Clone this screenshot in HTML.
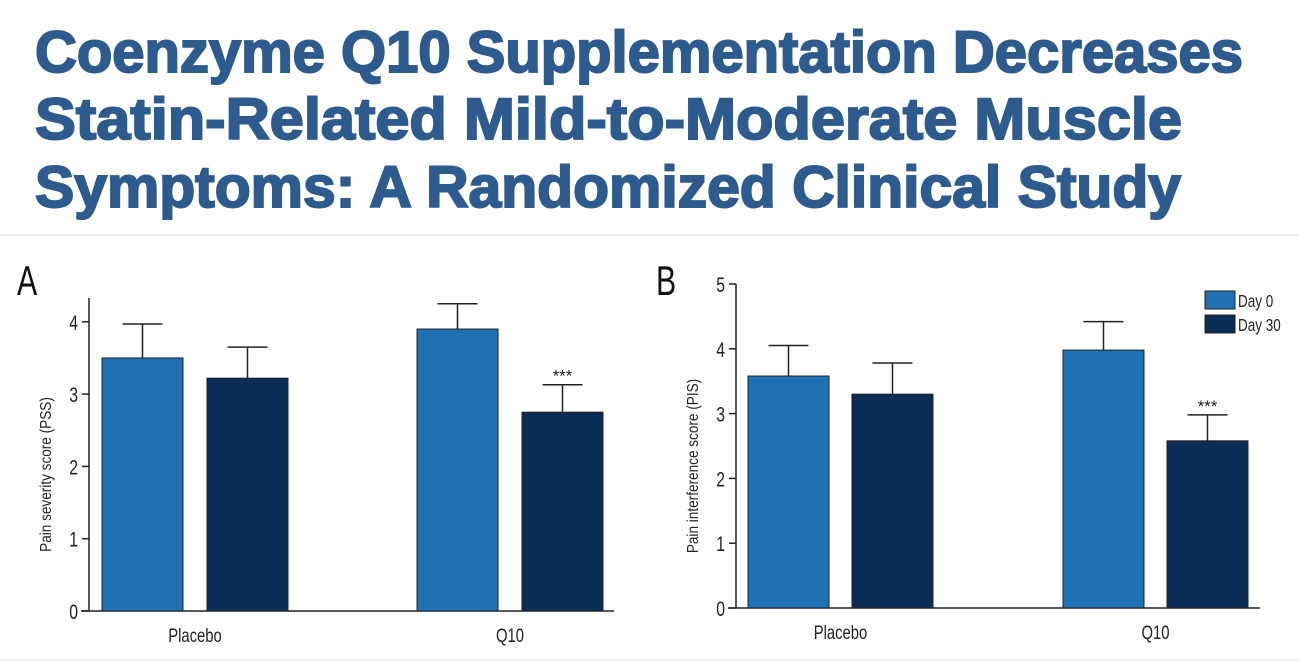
<!DOCTYPE html>
<html><head><meta charset="utf-8"><style>
body{margin:0;background:#fff;width:1299px;height:667px;overflow:hidden;font-family:"Liberation Sans",sans-serif}
</style></head><body>
<svg width="1299" height="667" xmlns="http://www.w3.org/2000/svg">
<g fill="#2e5b8e" font-family="Liberation Sans, sans-serif" font-weight="bold" font-size="58">
<text x="35" y="72" textLength="1208" lengthAdjust="spacingAndGlyphs" stroke="#2e5b8e" stroke-width="2">Coenzyme Q10 Supplementation Decreases</text>
<text x="35" y="139" textLength="1147" lengthAdjust="spacingAndGlyphs" stroke="#2e5b8e" stroke-width="2">Statin-Related Mild-to-Moderate Muscle</text>
<text x="35" y="207" textLength="1146" lengthAdjust="spacingAndGlyphs" stroke="#2e5b8e" stroke-width="2">Symptoms: A Randomized Clinical Study</text>
</g>
<line x1="0" y1="235" x2="1299" y2="235" stroke="#e4e4e4"/>
<line x1="0" y1="660" x2="1299" y2="660" stroke="#e4e4e4"/>
<g id="charts"></g>
</svg>
<script>
const categories=["Placebo","Q10"];
const seriesNames=["Day 0","Day 30"];
const aDay0=[3.5,3.9], aDay30=[3.22,2.75];
const aErr0=[0.47,0.35], aErr30=[0.43,0.38];
const bDay0=[3.58,3.98], bDay30=[3.3,2.58];
const bErr0=[0.47,0.44], bErr30=[0.48,0.4];
const aTicks=[0,1,2,3,4], bTicks=[0,1,2,3,4,5];
const NS="http://www.w3.org/2000/svg";
const root=document.getElementById('charts');
const colors=["#1f71b3","#0a2c55"];
function mk(tag,attrs,parent){const e=document.createElementNS(NS,tag);for(const k in attrs)e.setAttribute(k,attrs[k]);(parent||root).appendChild(e);return e;}
function cond(el,x,y,sx){el.setAttribute('transform',`translate(${x},${y}) scale(${sx},1)`);}
function chart(cfg){
  const g=mk('g',{});
  
  
  const y=v=>cfg.base-v*cfg.unit;
  const lab=mk('text',{x:0,y:0,'font-size':42,fill:'#111'},g);lab.textContent=cfg.letter;
  cond(lab,cfg.labX,cfg.labY,0.72);
  
  
  const ax=mk('line',{x1:cfg.ax,y1:cfg.top,x2:cfg.ax,y2:cfg.base,stroke:'#222','stroke-width':1.5},g);
  
  
  const bx=mk('line',{x1:cfg.ax-8,y1:cfg.base,x2:cfg.right,y2:cfg.base,stroke:'#222','stroke-width':1.5},g);
  
  
  cfg.ticks.forEach(t=>{
    mk('line',{x1:cfg.ax-7,y1:y(t),x2:cfg.ax,y2:y(t),stroke:'#222','stroke-width':1.5},g);
    const tx=mk('text',{x:0,y:0,'font-size':21,'text-anchor':'end',fill:'#222'},g);tx.textContent=t;
    cond(tx,cfg.ax-11,y(t)+8,0.75);
    
    
  });
  const yt=mk('text',{transform:`translate(${cfg.ax-38},${(cfg.top+cfg.base)/2+20}) rotate(-90) scale(0.85,1)`,'font-size':16,'text-anchor':'middle',fill:'#222'},g);
  yt.textContent=cfg.ytitle;
  
  
  const vals=[cfg.d0,cfg.d30], errs=[cfg.e0,cfg.e30];
  categories.forEach((c,i)=>{
    [0,1].forEach(s=>{
      const x=cfg.barX[i]+s*cfg.step, v=vals[s][i], e=errs[s][i], cx=x+cfg.bw/2;
      const r=mk('rect',{x:x,y:y(v),width:cfg.bw,height:cfg.base-y(v),fill:colors[s],stroke:'#222','stroke-width':1},g);
      
      
      mk('line',{x1:cx,y1:y(v),x2:cx,y2:y(v+e),stroke:'#222','stroke-width':1.5},g);
      mk('line',{x1:cx-20,y1:y(v+e),x2:cx+20,y2:y(v+e),stroke:'#222','stroke-width':1.5},g);
      if(i===1&&s===1){const st=mk('text',{x:cx,y:y(v+e)-3,'font-size':17,'text-anchor':'middle',fill:'#222'},g);st.textContent='***';
        
        }
    });
    const cl=mk('text',{x:0,y:0,'font-size':19,'text-anchor':'middle',fill:'#222'},g);cl.textContent=c;
    cond(cl,cfg.barX[i]+cfg.step/2+cfg.bw/2,cfg.base+31,0.78);
    
    
  });
}
chart({name:'chart-a',letter:'A',labX:17,labY:295,ax:89,top:298,base:611,unit:72.3,right:614,ticks:aTicks,ytitle:'Pain severity score (PSS)',d0:aDay0,d30:aDay30,e0:aErr0,e30:aErr30,barX:[102,417],step:105,bw:81});
chart({name:'chart-b',letter:'B',labX:656,labY:295,ax:736,top:284,base:608,unit:64.8,right:1260,ticks:bTicks,ytitle:'Pain interference score (PIS)',d0:bDay0,d30:bDay30,e0:bErr0,e30:bErr30,barX:[748,1063],step:104,bw:81});
const lg=mk('g',{});


seriesNames.forEach((n,s)=>{
  const r=mk('rect',{x:1205,y:291+s*24,width:30,height:18,fill:colors[s],stroke:'#222','stroke-width':1},lg);
  
  
  const t=mk('text',{x:0,y:0,'font-size':18,fill:'#222'},lg);t.textContent=n;
  cond(t,1238,307+s*24,0.75);
  
  
});
</script>
</body></html>
